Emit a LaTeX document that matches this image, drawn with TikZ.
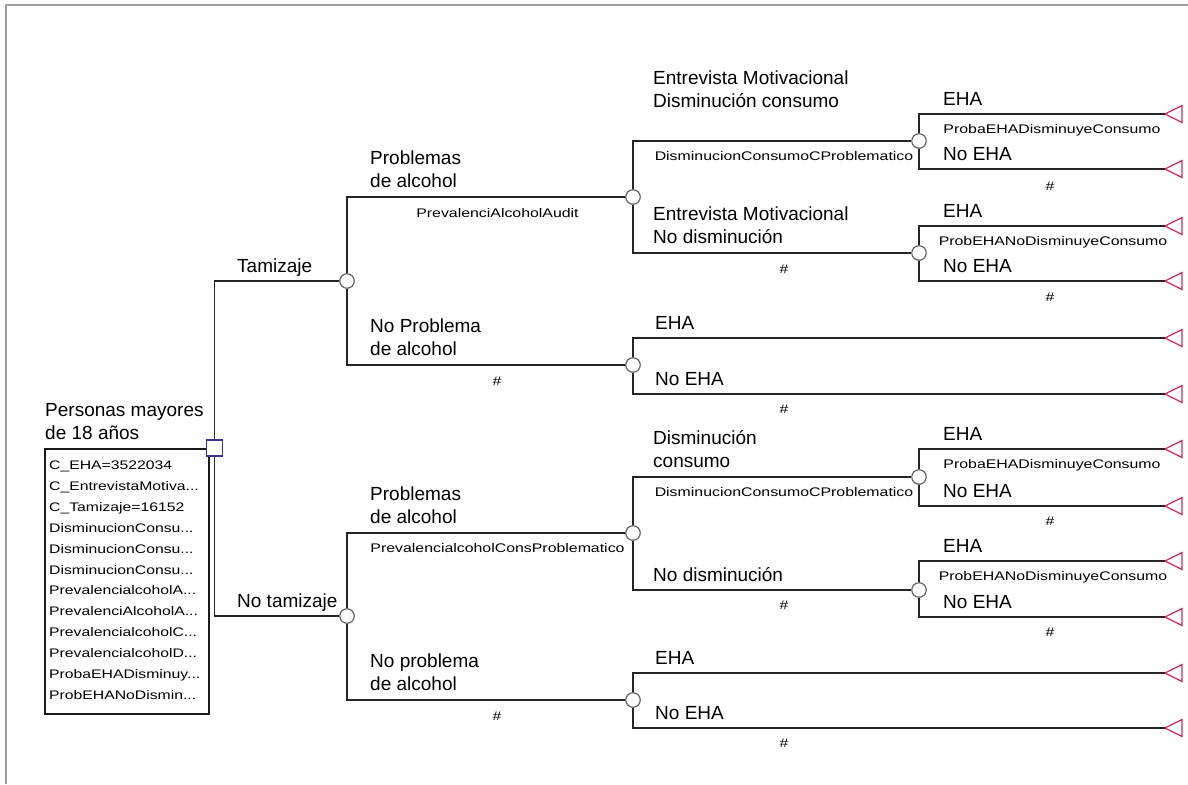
\documentclass[tikz,border=0pt]{standalone}
\usepackage{fontspec}
\setmainfont{Liberation Sans}
\newfontfamily\smallf[FakeStretch=1.27]{Liberation Sans}
\definecolor{termred}{RGB}{214,40,90}
\definecolor{sqblue}{RGB}{60,50,140}
\definecolor{framegray}{RGB}{160,160,160}
\newcommand\tdots{...}
\begin{document}
\begin{tikzpicture}[x=1pt,y=-1pt,
  edge/.style={line width=1.7pt, draw=black!85},
  chance/.style={circle, draw=black!60, fill=white, line width=1.2pt, minimum size=14.5pt, inner sep=0pt},
  decision/.style={rectangle, draw=sqblue, fill=white, line width=1.4pt, minimum size=16pt, inner sep=0pt},
  lbl/.style={anchor=base west, inner sep=0pt, font=\fontsize{19}{23.5}\selectfont},
  lbltwo/.style={anchor=south west, inner sep=0pt, align=left, font=\fontsize{19}{23.5}\selectfont},
  prob/.style={anchor=base, inner sep=0pt, font=\smallf\fontsize{12.5}{15}\selectfont},
  vtext/.style={anchor=base west, inner sep=0pt, font=\smallf\fontsize{12.4}{15}\selectfont},
  term/.style={draw=termred, line width=1.3pt, line join=miter},
  varbox/.style={draw=black!90, line width=1.6pt, minimum width=164pt, minimum height=265pt, anchor=north west, inner sep=0pt},
]
\useasboundingbox (0,0) rectangle (1188,784);
\fill[white] (0,0) rectangle (1188,784);
\draw[framegray, line width=2pt] (5.5,784) -- (5.5,5) -- (1188,5);

% variables box
\node[varbox] (vars) at (44,448) {};
\foreach \t [count=\i] in {C\_EHA=3522034, C\_EntrevistaMotiva\tdots, C\_Tamizaje=16152,
  DisminucionConsu\tdots, DisminucionConsu\tdots, DisminucionConsu\tdots,
  PrevalencialcoholA\tdots, PrevalenciAlcoholA\tdots, PrevalencialcoholC\tdots,
  PrevalencialcoholD\tdots, ProbaEHADisminuy\tdots, ProbEHANoDismin\tdots}
  \node[vtext] (v\i) at (49,{469.5+20.9*(\i-1)}) {\t};

% nodes
\node[decision] (R) at (214.5,448) {};
\node[chance] (A) at (347,281) {};
\node[chance] (F) at (347,616) {};
\node[chance] (B) at (633,197) {};
\node[chance] (C) at (633,365) {};
\node[chance] (G) at (633,533) {};
\node[chance] (H) at (633,700) {};
\node[chance] (D) at (919,141) {};
\node[chance] (E) at (919,253) {};
\node[chance] (I) at (919,477) {};
\node[chance] (J) at (919,590) {};

% terminals
\foreach \n/\y in {tDa/114, tDb/169, tEa/226, tEb/281, tCa/338, tCb/394,
                   tIa/449, tIb/506, tJa/561, tJb/617, tHa/673, tHb/728} {
  \coordinate (\n) at (1165,\y);
  \draw[term] (\n) -- ++(17,-8.5) -- ++(0,17) -- cycle;
}

% connectors
\draw[edge] (R) |- (A);
\draw[edge] (R) |- (F);
\draw[edge] (A) |- (B);
\draw[edge] (A) |- (C);
\draw[edge] (F) |- (G);
\draw[edge] (F) |- (H);
\draw[edge] (B) |- (D);
\draw[edge] (B) |- (E);
\draw[edge] (G) |- (I);
\draw[edge] (G) |- (J);
\draw[edge] (D) |- (tDa);
\draw[edge] (D) |- (tDb);
\draw[edge] (E) |- (tEa);
\draw[edge] (E) |- (tEb);
\draw[edge] (C) |- (tCa);
\draw[edge] (C) |- (tCb);
\draw[edge] (I) |- (tIa);
\draw[edge] (I) |- (tIb);
\draw[edge] (J) |- (tJa);
\draw[edge] (J) |- (tJb);
\draw[edge] (H) |- (tHa);
\draw[edge] (H) |- (tHb);

% branch labels
\node[lbltwo] (lPers) at (45,440) {Personas mayores\\de 18 años};
\node[lbl] (lTam) at (237,272) {Tamizaje};
\node[lbl] (lNoTam) at (237,607) {No tamizaje};
\node[lbltwo] (lProb1) at (370,188) {Problemas\\de alcohol};
\node[lbltwo] (lNoProb1) at (370,356) {No Problema\\de alcohol};
\node[lbltwo] (lProb2) at (370,524) {Problemas\\de alcohol};
\node[lbltwo] (lNoProb2) at (370,691) {No problema\\de alcohol};
\node[lbltwo] (lEM1) at (653,108) {Entrevista Motivacional\\Disminución consumo};
\node[lbltwo] (lEM2) at (653,244) {Entrevista Motivacional\\No disminución};
\node[lbltwo] (lDis) at (653,468) {Disminución\\consumo};
\node[lbl] (lNoDis) at (653,581) {No disminución};

\node[lbl] (eDa) at (943,105) {EHA};
\node[lbl] (eDb) at (943,160) {No EHA};
\node[lbl] (eEa) at (943,217) {EHA};
\node[lbl] (eEb) at (943,272) {No EHA};
\node[lbl] (eCa) at (655,329) {EHA};
\node[lbl] (eCb) at (655,385) {No EHA};
\node[lbl] (eIa) at (943,440) {EHA};
\node[lbl] (eIb) at (943,497) {No EHA};
\node[lbl] (eJa) at (943,552) {EHA};
\node[lbl] (eJb) at (943,608) {No EHA};
\node[lbl] (eHa) at (655,664) {EHA};
\node[lbl] (eHb) at (655,719) {No EHA};

% probability labels
\node[prob] (p1) at (497.5,217) {PrevalenciAlcoholAudit};
\node[prob] (p2) at (497,385) {\#};
\node[prob] (p3) at (784,160) {DisminucionConsumoCProblematico};
\node[prob] (p4) at (784,273) {\#};
\node[prob] (p5) at (1052,133) {ProbaEHADisminuyeConsumo};
\node[prob] (p6) at (1050,190) {\#};
\node[prob] (p7) at (1053,245) {ProbEHANoDisminuyeConsumo};
\node[prob] (p8) at (1050,301) {\#};
\node[prob] (p9) at (784,413) {\#};
\node[prob] (p10) at (497.5,552) {PrevalencialcoholConsProblematico};
\node[prob] (p11) at (784,496) {DisminucionConsumoCProblematico};
\node[prob] (p12) at (784,609) {\#};
\node[prob] (p13) at (1052,468) {ProbaEHADisminuyeConsumo};
\node[prob] (p14) at (1050,525) {\#};
\node[prob] (p15) at (1053,580) {ProbEHANoDisminuyeConsumo};
\node[prob] (p16) at (1050,636) {\#};
\node[prob] (p17) at (497,720) {\#};
\node[prob] (p18) at (784,747) {\#};
\end{tikzpicture}
\end{document}
